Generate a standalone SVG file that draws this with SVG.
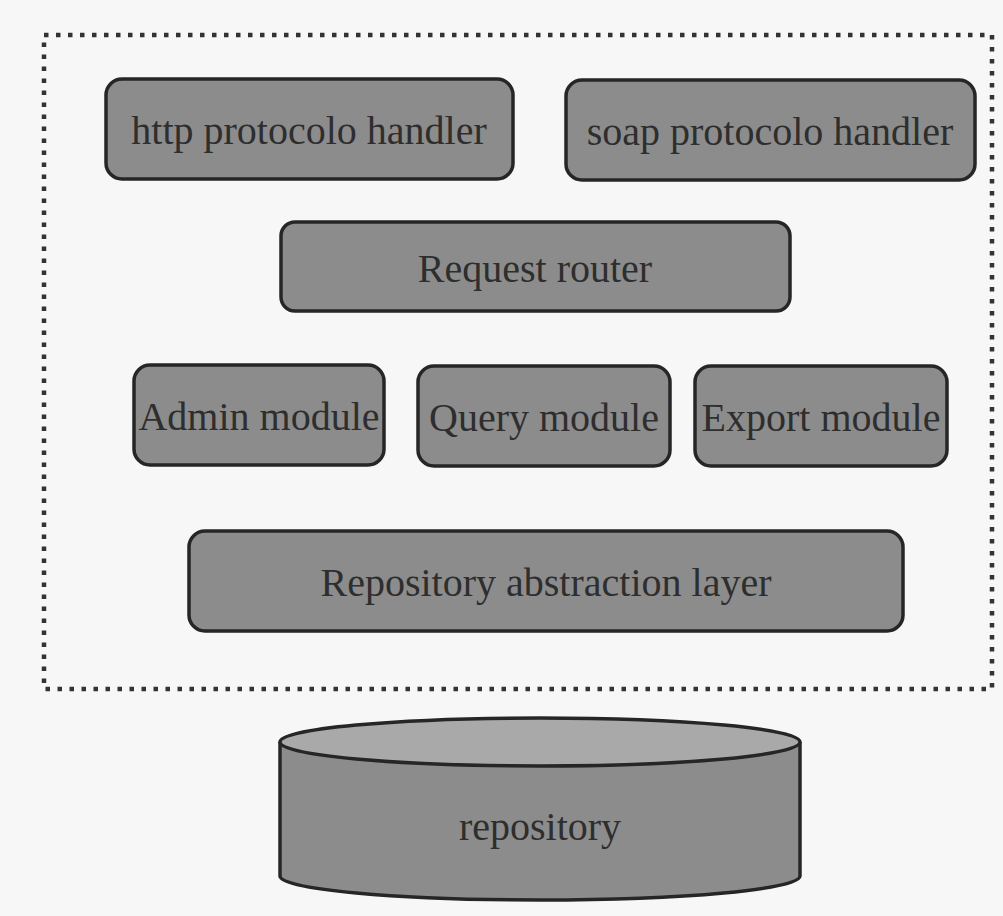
<svg xmlns="http://www.w3.org/2000/svg" width="1003" height="916" viewBox="0 0 1003 916">
<style>
.box{fill:#8c8c8c;stroke:#262626;stroke-width:3.5}
.lbl{font-family:"Liberation Serif","Times New Roman",serif;font-size:40px;fill:#2e2e2e;text-anchor:middle;dominant-baseline:central}
.frame{fill:none;stroke:#333;stroke-width:4.5;stroke-dasharray:4.5 7.5}
</style>
<rect width="1003" height="916" fill="#f7f7f7"/>
<g id="frame"><rect class="frame" x="44" y="35" width="948" height="654"/></g>
<g id="http"><rect class="box" x="106" y="79" width="407" height="100" rx="16"/><text class="lbl" x="309" y="130">http protocolo handler</text></g>
<g id="soap"><rect class="box" x="566" y="80" width="409" height="100" rx="16"/><text class="lbl" x="770" y="131">soap protocolo handler</text></g>
<g id="router"><rect class="box" x="281" y="222" width="509" height="89" rx="14"/><text class="lbl" x="535" y="268">Request router</text></g>
<g id="admin"><rect class="box" x="134" y="365" width="250" height="100" rx="16"/><text class="lbl" x="259" y="416">Admin module</text></g>
<g id="query"><rect class="box" x="418" y="366" width="252" height="100" rx="16"/><text class="lbl" x="544" y="417">Query module</text></g>
<g id="export"><rect class="box" x="695" y="366" width="252" height="100" rx="16"/><text class="lbl" x="821" y="417">Export module</text></g>
<g id="ral"><rect class="box" x="189" y="531" width="714" height="100" rx="16"/><text class="lbl" x="546" y="582">Repository abstraction layer</text></g>
<g id="repository">
<path class="box" d="M280 742 L280 876 A260 24 0 0 0 800 876 L800 742"/>
<ellipse cx="540" cy="742" rx="260" ry="24" fill="#a9a9a9" stroke="#262626" stroke-width="3.5"/>
<text class="lbl" x="540" y="826">repository</text>
</g>
<g id="connectors"/>
</svg>
